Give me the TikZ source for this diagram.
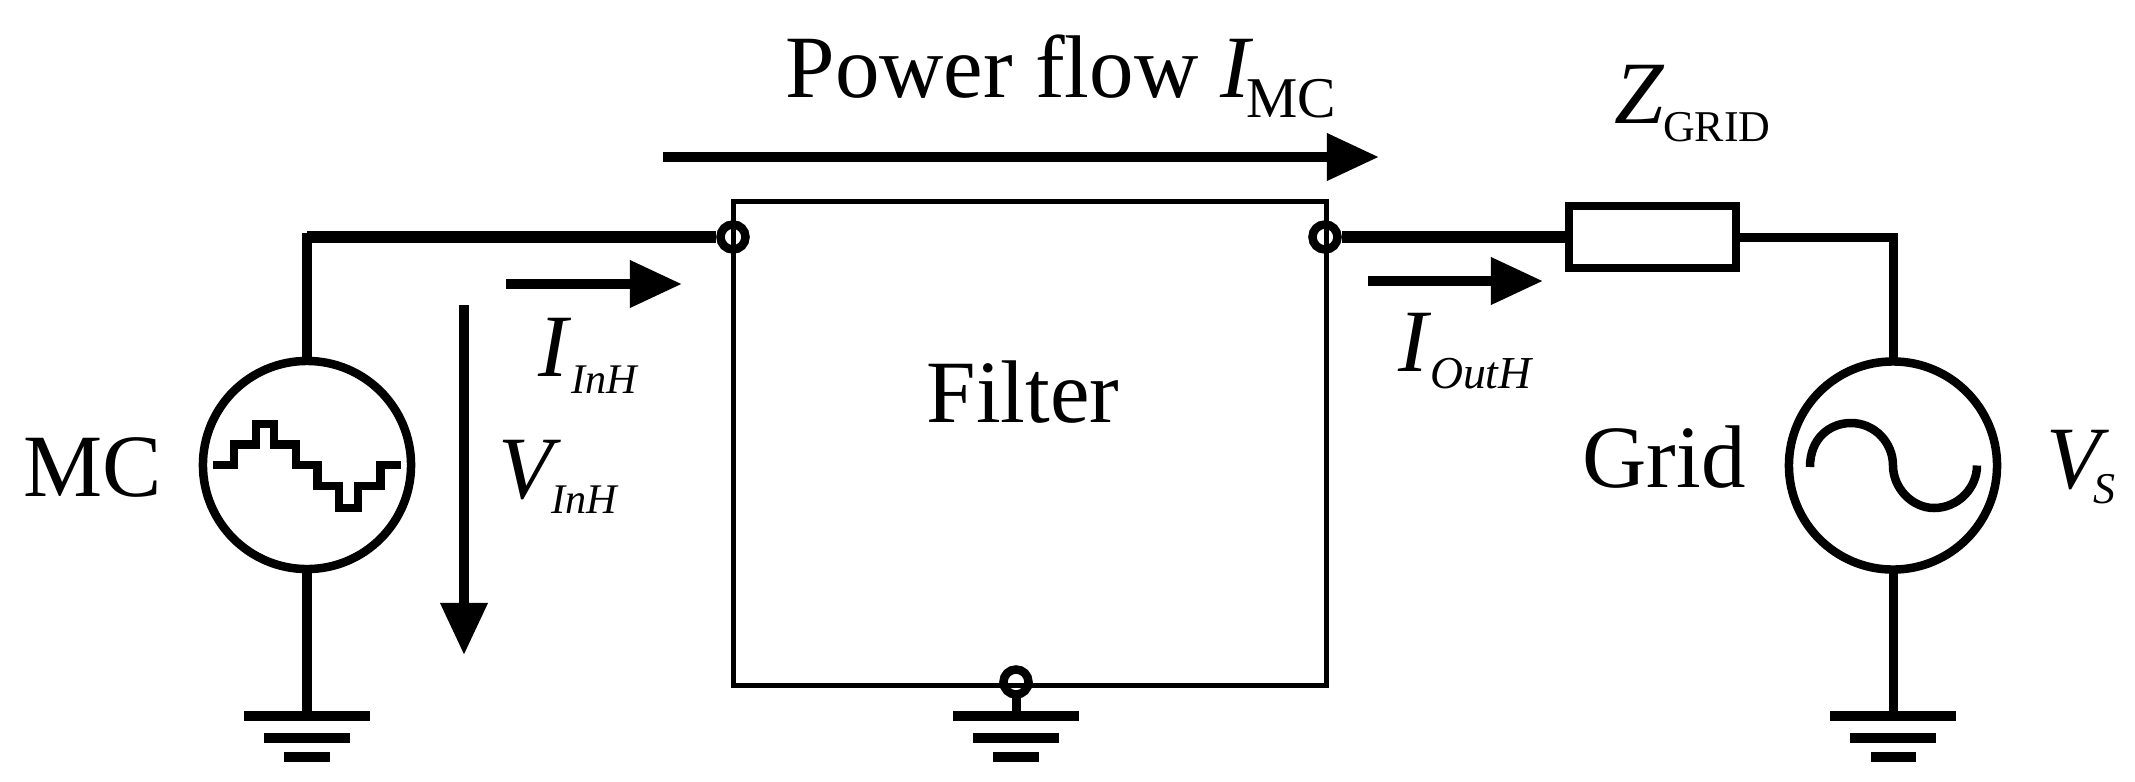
\documentclass[tikz,border=0pt]{standalone}
\usepackage{fontspec}
\setmainfont{Liberation Serif}
\usetikzlibrary{arrows.meta,positioning}
\newcommand{\biglbl}{\fontsize{25.3}{30}\selectfont}
\newcommand{\symlbl}[5]{\textit{#1}\kern#3\raisebox{-#4}{\fontsize{#5}{15}\selectfont\textit{#2}}}
\begin{document}
\begin{tikzpicture}[x=0.01cm, y=-0.01cm]
    % Define styles
    \tikzstyle{source} = [circle, draw, line width=0.85mm, minimum size=2.08cm, inner sep=0pt]
    \tikzstyle{terminal} = [circle, draw, line width=0.85mm, minimum size=0.25cm, inner sep=0pt]
    \tikzstyle{block} = [rectangle, draw, line width=0.5mm, inner sep=0pt]
    \tikzstyle{resistor} = [rectangle, draw, line width=0.8mm, minimum width=1.66cm, minimum height=0.61cm, inner sep=0pt]
    \tikzstyle{wire} = [draw, line width=0.9mm, line cap=rect]
    \tikzstyle{thick wire} = [draw, line width=1.15mm]
    \tikzstyle{flow} = [draw, line width=1mm, -{Triangle[length=5.2mm, width=4.5mm]}]
    \tikzstyle{wave} = [draw, line width=0.85mm]
    \tikzstyle{lbl} = [anchor=base west, inner sep=0pt, font=\biglbl]
    \tikzstyle{gnda} = [rectangle, fill=black, inner sep=0pt, minimum width=1.26cm, minimum height=0.1cm]
    \tikzstyle{gndb} = [rectangle, fill=black, inner sep=0pt, minimum width=0.86cm, minimum height=0.1cm]
    \tikzstyle{gndc} = [rectangle, fill=black, inner sep=0pt, minimum width=0.45cm, minimum height=0.1cm]

    \useasboundingbox (0,0) rectangle (2135,781);

    % Place nodes
    \node [source] (mc) at (307,465) {};
    \node [source] (grid) at (1893,465.5) {};
    \node [block, minimum width=5.92cm, minimum height=4.83cm] (filter) at (1030,443.5) {};
    \node [terminal] (tin) at (733,237) {};
    \node [terminal] (tout) at (1325,237) {};
    \node [terminal] (tgnd) at (1016,682) {};
    \node [resistor] (zgrid) at (1652.5,237) {};
    \coordinate (corner) at (307,237);

    \foreach \g/\x in {mc/307, fil/1016, gr/1893} {
        \node [gnda] (\g a) at (\x,716) {};
        \node [gndb] (\g b) at (\x,738) {};
        \node [gndc] (\g c) at (\x,757) {};
    }

    \coordinate (pwrs) at (663,157);
    \coordinate (pwre) at (1379,157);
    \coordinate (iins) at (506,284);
    \coordinate (iine) at (682,284);
    \coordinate (vins) at (464,305);
    \coordinate (vine) at (464,655);
    \coordinate (iouts) at (1368,281);
    \coordinate (ioute) at (1543,281);

    % Labels
    \node [lbl] (lmc) at (23,496) {MC};
    \node [lbl] (lgrid) at (1582,487) {Grid};
    \node [lbl] (lfilter) at (926,422) {Filter};
    \node [lbl] (lpower) at (785,97) {Power flow \textit{I}\kern-2pt\raisebox{-5.7pt}{\fontsize{16.4}{18}\selectfont MC}};
    \node [lbl] (liin) at (538,376) {\symlbl{I}{InH}{0pt}{5pt}{12}};
    \node [lbl] (lvin) at (498,498) {\symlbl{V}{InH}{-3pt}{4.5pt}{12}};
    \node [lbl] (liout) at (1398,371) {\symlbl{I}{OutH}{-0.5pt}{5pt}{13}};
    \node [lbl] (lz) at (1614,123.5) {\textit{Z}\kern-0.5pt\raisebox{-5pt}{\fontsize{12.5}{15}\selectfont GRID}};
    \node [lbl] (lvs) at (2046,488) {\symlbl{V}{S}{-4.5pt}{4.5pt}{12.5}};

    % Draw edges
    \path [thick wire] (tin) -- (corner);
    \path [wire] (corner) -- (mc);
    \path [wire] (mc) -- (mca);
    \path [thick wire] (tout) -- (zgrid);
    \path [wire] (zgrid) -| (grid);
    \path [wire] (grid) -- (gra);
    \path [wire] (tgnd) -- (fila);
    \path [flow] (pwrs) -- (pwre);
    \path [flow] (iins) -- (iine);
    \path [flow] (vins) -- (vine);
    \path [flow] (iouts) -- (ioute);

    % Waveforms
    \path [wave] (213,465) -- (234,465) -- (234,444.5) -- (256,444.5) -- (256,424) -- (274,424)
        -- (274,444.5) -- (296,444.5) -- (296,465) -- (317.5,465) -- (317.5,486) -- (339,486)
        -- (339,508) -- (358,508) -- (358,486) -- (380.5,486) -- (380.5,465) -- (401,465);
    \path [wave] (1810,467) .. controls (1810,438) and (1830,423) .. (1851,423)
        .. controls (1875,423) and (1893,443) .. (1893,465.5)
        .. controls (1893,488) and (1912,508) .. (1934,508)
        .. controls (1958,508) and (1977,488) .. (1977,465.5);
\end{tikzpicture}
\end{document}
